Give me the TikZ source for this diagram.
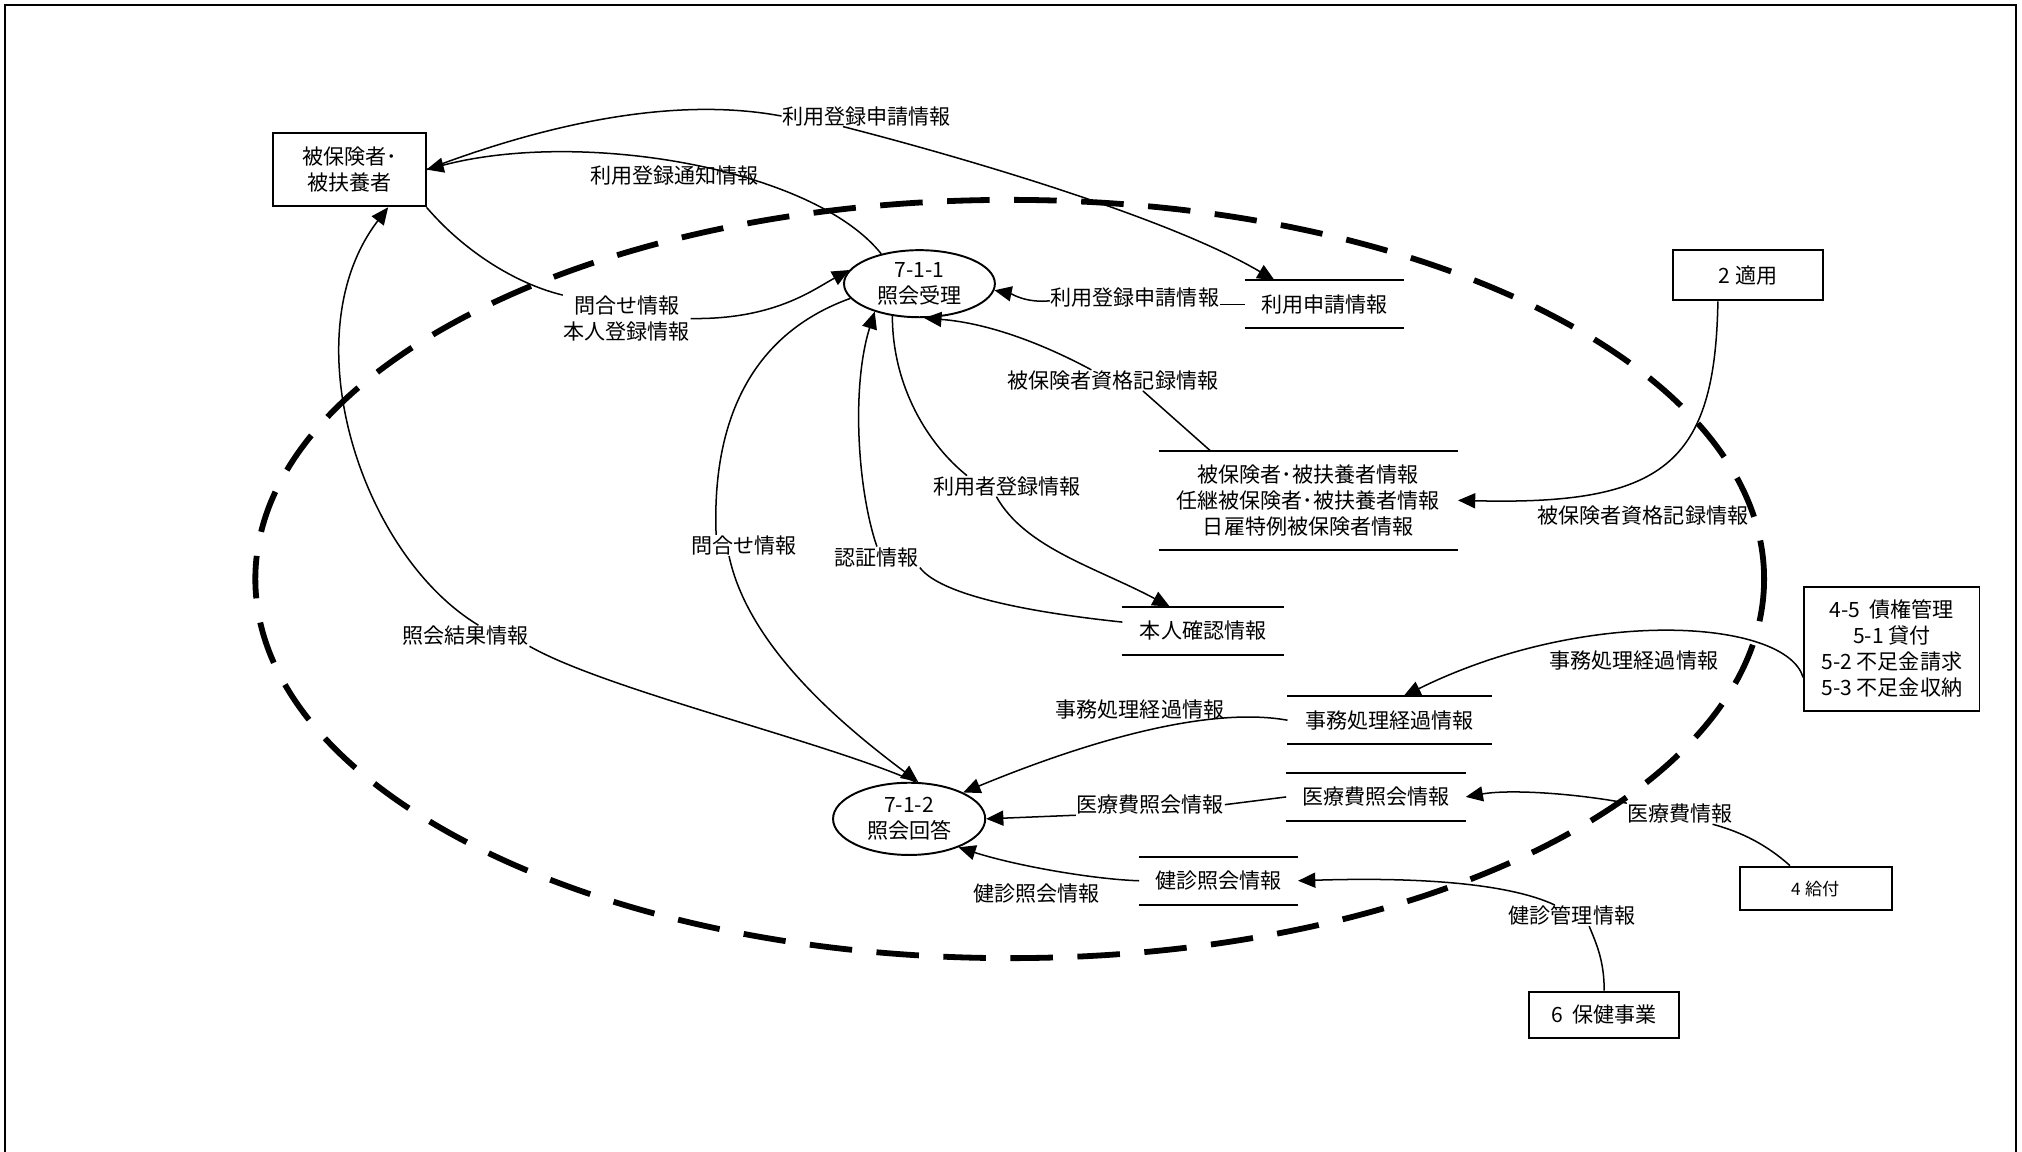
\documentclass[tikz,border=0pt]{standalone}
\usepackage{fontspec}
\newfontfamily\jpfont{Noto Sans CJK JP}
\usetikzlibrary{arrows.meta,shapes.geometric}
\tikzset{every picture/.style={line width=0.75pt}}

\begin{document}
\begin{tikzpicture}[x=0.6pt,y=0.6pt,yscale=-1,xscale=1,
  every node/.style={font=\jpfont\fontsize{9.8}{12}\selectfont, inner sep=0pt, align=center},
  ext/.style={draw, line width=0.9pt},
  proc/.style={draw, ellipse, line width=0.9pt},
  store/.style={minimum width=#1, minimum height=21.6pt,
    append after command={(\tikzlastnode.north west) edge[draw, line width=0.9pt] (\tikzlastnode.north east)
                          (\tikzlastnode.south west) edge[draw, line width=0.9pt] (\tikzlastnode.south east)}},
  flow/.style={-{Triangle[length=8pt,width=7pt]}, line width=0.7pt},
  link/.style={line width=0.7pt},
  boundary/.style={line width=2.7pt, dash pattern=on 19.8pt off 11.4pt}]
\useasboundingbox (0,0) rectangle (1568,893);

%Shape: Frame
\draw[line width=0.9pt] (4,4) rectangle (1563,900);
%Shape: Ellipse (boundary)
\draw[boundary] (783,449) ellipse [x radius=585, y radius=294];

%Shape: Square (externals)
\draw (271,131.5) node[ext, minimum width=70.8pt, minimum height=34.2pt] (eA) {被保険者･\\被扶養者};
\draw (1355.5,213.5) node[ext, minimum width=70.2pt, minimum height=23.4pt] (eB) {2 適用};
\draw (1467,503) node[ext, minimum width=81.6pt, minimum height=57.6pt] (eC) {4-5\ \ 債権管理\\5-1 貸付\\5-2 不足金請求\\5-3 不足金収納};
\draw (1408,689) node[ext, minimum width=70.8pt, minimum height=20.4pt, font=\jpfont\fontsize{8}{10}\selectfont] (eD) {4 給付};
\draw (1244,787) node[ext, minimum width=69.6pt, minimum height=21.6pt] (eE) {6\ \ 保健事業};

%Shape: Ellipse (processes)
\draw (713,220) node[proc, minimum width=70.2pt, minimum height=31.2pt, label=center:{7-1-1\\照会受理}] (p711) {};
\draw (705,635) node[proc, minimum width=70.8pt, minimum height=33.6pt, label=center:{7-1-2\\照会回答}] (p712) {};

%Shape: Stores
\draw (1027,236) node[store=73.2pt] (sA) {利用申請情報};
\draw (1014.5,388) node[store=138.6pt, minimum height=45.6pt] (sB) {被保険者･被扶養者情報\\任継被保険者･被扶養者情報\\日雇特例被保険者情報};
\draw (933,489) node[store=74.4pt] (sC) {本人確認情報};
\draw (1077.5,558.5) node[store=94.2pt] (sD) {事務処理経過情報};
\draw (1067,618) node[store=82.8pt] (sE) {医療費照会情報};
\draw (945,683) node[store=73.2pt] (sF) {健診照会情報};

% Text Node
\draw (672,90) node (lA) {利用登録申請情報};
% Text Node
\draw (523,136) node (lB) {利用登録通知情報};
% Text Node
\draw (486,247) node (lC) {問合せ情報\\本人登録情報};
% Text Node
\draw (880,231) node (lD) {利用登録申請情報};
% Text Node
\draw (863,295) node (lE) {被保険者資格記録情報};
% Text Node
\draw (781,377) node (lF) {利用者登録情報};
% Text Node
\draw (680,432) node (lG) {認証情報};
% Text Node
\draw (577,423) node (lH) {問合せ情報};
% Text Node
\draw (361,493) node (lI) {照会結果情報};
% Text Node
\draw (1267,512) node (lJ) {事務処理経過情報};
% Text Node
\draw (884,550) node (lK) {事務処理経過情報};
% Text Node
\draw (892,624) node (lL) {医療費照会情報};
% Text Node
\draw (1303,631) node (lM) {医療費情報};
% Text Node
\draw (804,693) node (lN) {健診照会情報};
% Text Node
\draw (1219,710) node (lO) {健診管理情報};
% Text Node
\draw (1274,400) node (lP) {被保険者資格記録情報};

%Curve Lines
\draw[link] (eA.east) .. controls (400,105) and (510,72) .. (lA.west);
\draw[flow] ([xshift=-11pt]lA.south) .. controls (720,115) and (900,165) .. ([xshift=13.8pt]sA.north west);
%Curve Lines
\draw[flow] (p711.142) .. controls (630,130) and (450,100) .. (eA.east);
%Curve Lines
\draw[link] (eA.south east) .. controls (360,195) and (400,220) .. (lC.north west);
\draw[flow] (lC.east) .. controls (600,248) and (630,225) .. (p711.169);
%Curve Lines
\draw[link] (sA.west) -- (sA.west -| lD.east);
\draw[flow] (lD.182) .. controls (795,235) and (785,228) .. (p711.355);
%Curve Lines
\draw[link] ([xshift=24pt]sB.north west) -- ([xshift=14pt]lE.south);
\draw[flow] ([xshift=-10pt]lE.north) .. controls (800,262) and (760,250) .. (p711.278);
%Curve Lines
\draw[link] (p711.230) .. controls (692,300) and (720,345) .. ([xshift=16pt]lF.north west);
\draw[flow] ([xshift=-5pt]lF.south) .. controls (795,425) and (850,440) .. ([xshift=22pt]sC.north west);
%Curve Lines
\draw[link] (sC.174) .. controls (800,475) and (730,462) .. (lG.south east);
\draw[flow] (lG.north) .. controls (665,380) and (660,300) .. (p711.212);
%Curve Lines
\draw[link] (p711.192) .. controls (580,260) and (552,330) .. ([xshift=-13pt]lH.north);
\draw[flow] ([xshift=-7pt]lH.south) .. controls (580,500) and (650,560) .. (p712.76);
%Curve Lines
\draw[link] (p712.80) .. controls (640,575) and (470,535) .. (lI.south east);
\draw[flow] ([xshift=6pt]lI.north) .. controls (280,430) and (225,260) .. ([xshift=18pt]eA.south);
%Curve Lines
\draw[flow] (eC.198) .. controls (1385,480) and (1230,470) .. ([xshift=54pt]sD.north west);
%Curve Lines
\draw[flow] (sD.west) .. controls (940,548) and (850,572) .. (p712.26);
%Straight Lines
\draw[link] (sE.west) -- (lL.east);
\draw[flow] (lL.south west) -- (p712.east);
%Curve Lines
\draw[link] ([xshift=-12pt]eD.north) .. controls (1370,655) and (1350,645) .. ([xshift=15pt]lM.south);
\draw[flow] (lM.north west) .. controls (1220,615) and (1170,612) .. (sE.east);
%Curve Lines
\draw[flow] (sF.west) .. controls (850,682) and (790,672) .. (p712.-30);
%Curve Lines
\draw[link] (eE.north) .. controls (1244,745) and (1238,732) .. ([xshift=8pt]lO.south);
\draw[flow] ([xshift=-8pt]lO.north) .. controls (1170,685) and (1100,680) .. (sF.east);
%Curve Lines
\draw[flow] ([xshift=-14pt]eB.south) .. controls (1330,360) and (1290,392) .. (sB.east);

\end{tikzpicture}
\end{document}
